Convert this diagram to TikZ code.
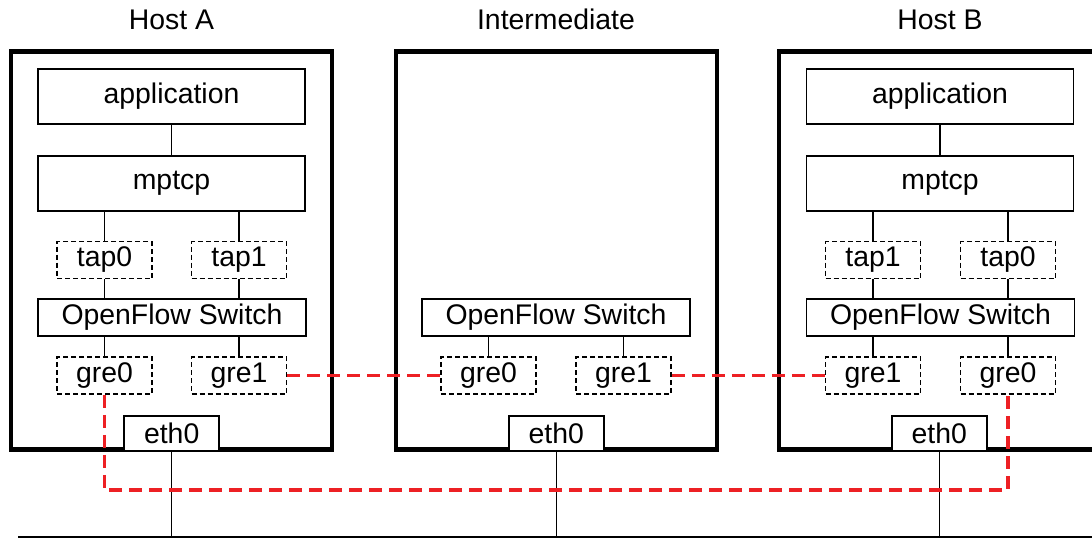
\documentclass[tikz,border=0pt]{standalone}
\usepackage{fontspec}
\setmainfont{Liberation Sans}
\definecolor{tunnelred}{RGB}{237,32,36}
\tikzset{
  hostbox/.style={draw, line width=2.2pt, minimum width=160.5pt, minimum height=199pt, inner sep=0pt},
  layer/.style={draw, line width=0.8pt, minimum width=133.5pt, minimum height=27.5pt, inner sep=0pt},
  switch/.style={draw, line width=0.8pt, minimum width=134pt, minimum height=18.5pt, inner sep=0pt},
  iface/.style={draw, dash pattern=on 2.5pt off 1.5pt, line width=0.75pt, minimum width=47.5pt, minimum height=18.5pt, inner sep=0pt},
  nic/.style={draw, fill=white, line width=0.8pt, minimum width=47.5pt, minimum height=17.5pt, inner sep=0pt},
  link/.style={line width=0.6pt},
  bus/.style={line width=1.1pt},
  tunnel/.style={tunnelred, line width=1.6pt, dash pattern=on 6.5pt off 3.5pt}
}
\begin{document}
\begin{tikzpicture}[x=0.5pt, y=-0.5pt, font=\fontsize{14.2}{17}\selectfont]
    \useasboundingbox (0,0) rectangle (1092,538);

    %titles
    \node[anchor=base] (titleA) at (171.5,29) {Host A};
    \node[anchor=base] (titleI) at (556,29) {Intermediate};
    \node[anchor=base] (titleB) at (940,29) {Host B};

    %host A
    \node[hostbox] (hostA) at (171.7,250.6) {};
    \node[layer] (appA) at (171.5,96.5) {application};
    \node[layer] (mptcpA) at (171.5,183.5) {mptcp};
    \node[iface] (tap0A) at (104.5,260) {tap0};
    \node[iface] (tap1A) at (239,260) {tap1};
    \node[switch] (ofsA) at (172,317.5) {OpenFlow Switch};
    \node[iface] (gre0A) at (104.5,375.5) {gre0};
    \node[iface] (gre1A) at (239,375.5) {gre1};
    \node[nic, anchor=south] (eth0A) at (hostA.south) {eth0};

    \draw[link] (appA) -- (mptcpA);
    \draw[link] (tap0A.north) -- (tap0A.north |- mptcpA.south);
    \draw[link] (tap1A.north) -- (tap1A.north |- mptcpA.south);
    \draw[link] (tap0A.south) -- (tap0A.south |- ofsA.north);
    \draw[link] (tap1A.south) -- (tap1A.south |- ofsA.north);
    \draw[link] (gre0A.north) -- (gre0A.north |- ofsA.south);
    \draw[link] (gre1A.north) -- (gre1A.north |- ofsA.south);

    %intermediate
    \node[hostbox] (hostI) at (556.2,250.6) {};
    \node[switch] (ofsI) at (556,317.5) {OpenFlow Switch};
    \node[iface] (gre0I) at (488.5,375.5) {gre0};
    \node[iface] (gre1I) at (623.5,375.5) {gre1};
    \node[nic, anchor=south] (eth0I) at (hostI.south) {eth0};

    \draw[link] (gre0I.north) -- (gre0I.north |- ofsI.south);
    \draw[link] (gre1I.north) -- (gre1I.north |- ofsI.south);

    %host B
    \node[hostbox] (hostB) at (939.2,250.6) {};
    \node[layer] (appB) at (940,96.5) {application};
    \node[layer] (mptcpB) at (940,183.5) {mptcp};
    \node[iface] (tap1B) at (873,260) {tap1};
    \node[iface] (tap0B) at (1008,260) {tap0};
    \node[switch] (ofsB) at (940.5,317.5) {OpenFlow Switch};
    \node[iface] (gre1B) at (873,375.5) {gre1};
    \node[iface] (gre0B) at (1008,375.5) {gre0};
    \node[nic, anchor=south] (eth0B) at (hostB.south) {eth0};

    \draw[link] (appB) -- (mptcpB);
    \draw[link] (tap1B.north) -- (tap1B.north |- mptcpB.south);
    \draw[link] (tap0B.north) -- (tap0B.north |- mptcpB.south);
    \draw[link] (tap1B.south) -- (tap1B.south |- ofsB.north);
    \draw[link] (tap0B.south) -- (tap0B.south |- ofsB.north);
    \draw[link] (gre1B.north) -- (gre1B.north |- ofsB.south);
    \draw[link] (gre0B.north) -- (gre0B.north |- ofsB.south);

    %network
    \coordinate (busL) at (18,537);
    \coordinate (busR) at (1092,537);
    \draw[bus] (busL) -- (busR);
    \draw[link] (eth0A.south) -- (eth0A.south |- busL);
    \draw[link] (eth0I.south) -- (eth0I.south |- busL);
    \draw[link] (eth0B.south) -- (eth0B.south |- busL);

    %tunnels
    \coordinate (loop) at (0,490);
    \draw[tunnel] (gre1A.east) -- (gre0I.west);
    \draw[tunnel] (gre1I.east) -- (gre1B.west);
    \draw[tunnel] (gre0A.south) -- (gre0A.south |- loop) -- (gre0B.south |- loop) -- (gre0B.south);
\end{tikzpicture}
\end{document}
